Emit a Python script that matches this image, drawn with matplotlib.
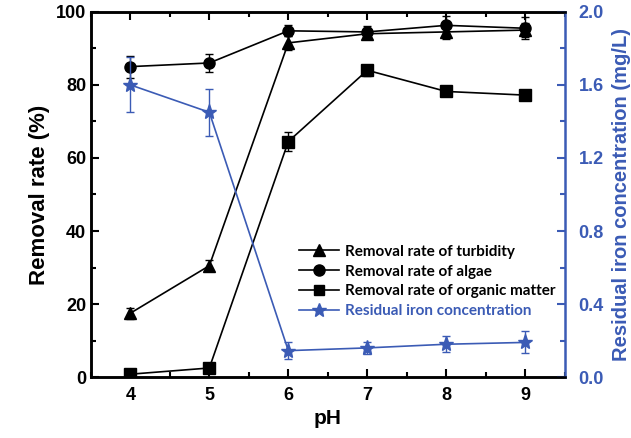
import numpy as np
import matplotlib.pyplot as plt
from matplotlib.ticker import MultipleLocator
from matplotlib.lines import Line2D

# data
ph = [4, 5, 6, 7, 8, 9]
turbidity = [17.5, 30.5, 91.5, 94.0, 94.5, 95.0]
turbidity_err = [1.5, 1.5, 2.0, 1.5, 2.0, 2.0]
algae = [85.0, 86.0, 94.8, 94.5, 96.3, 95.5]
algae_err = [3.0, 2.5, 1.5, 1.5, 2.5, 3.0]
organic = [0.8, 2.5, 64.5, 84.0, 78.2, 77.2]
organic_err = [0.3, 0.4, 2.5, 1.5, 1.2, 1.3]
iron = [1.60, 1.45, 0.145, 0.16, 0.18, 0.19]
iron_err = [0.15, 0.13, 0.045, 0.035, 0.045, 0.06]

blue = "#3b5bb5"
plt.rcParams["font.family"] = ["Liberation Sans", "DejaVu Sans"]
plt.rcParams["font.weight"] = "bold"

fig = plt.figure(figsize=(6.31, 4.38), dpi=100)
ax = fig.add_axes([0.144, 0.139, 0.751, 0.834])
ax2 = ax.twinx()

kw = dict(color="black", lw=1.2, ms=8, capsize=3, elinewidth=1, capthick=1)
ax.errorbar(ph, turbidity, yerr=turbidity_err, marker="^", **kw)
ax.errorbar(ph, algae, yerr=algae_err, marker="o", **kw)
ax.errorbar(ph, organic, yerr=organic_err, marker="s", **kw)
ax2.errorbar(ph, iron, yerr=iron_err, marker="*", color=blue, lw=1.2, ms=11,
             capsize=3, elinewidth=1, capthick=1)

ax.set_xlim(3.5, 9.5)
ax.set_ylim(0, 100)
ax2.set_ylim(0, 2.0)
ax.xaxis.set_major_locator(MultipleLocator(1))
ax.xaxis.set_minor_locator(MultipleLocator(0.5))
ax.yaxis.set_major_locator(MultipleLocator(20))
ax.yaxis.set_minor_locator(MultipleLocator(10))
ax2.yaxis.set_minor_locator(MultipleLocator(0.2))
ax2.set_yticks(np.arange(0, 2.01, 0.4))
ax2.set_yticklabels([f"{v:.1f}" for v in np.arange(0, 2.01, 0.4)])

ax.tick_params(axis="both", which="both", direction="in", top=True, width=1.5, labelsize=13)
ax.tick_params(which="major", length=6)
ax.tick_params(which="minor", length=3.5)
ax.tick_params(axis="x", pad=7)
ax2.tick_params(axis="y", which="both", direction="in", colors=blue, width=1.5,
                labelsize=13, pad=10)
ax2.tick_params(which="major", length=6)
ax2.tick_params(which="minor", length=3.5)

for s in ["left", "bottom", "top"]:
    ax.spines[s].set_linewidth(1.8)
    ax2.spines[s].set_linewidth(1.8)
ax2.spines["right"].set_linewidth(1.8)
ax2.spines["right"].set_color(blue)
ax.spines["right"].set_visible(False)

ax.set_xlabel("pH", fontsize=15, fontweight="bold")
ax.set_ylabel("Removal rate (%)", fontsize=16, fontweight="bold")
ax2.set_ylabel("Residual iron concentration (mg/L)", fontsize=14.5, fontweight="bold",
               color=blue, labelpad=6)

handles = [
    Line2D([], [], color="black", marker="^", ms=8, lw=1.2),
    Line2D([], [], color="black", marker="o", ms=8, lw=1.2),
    Line2D([], [], color="black", marker="s", ms=7, lw=1.2),
    Line2D([], [], color=blue, marker="*", ms=10, lw=1.2),
]
labels = ["Removal rate of turbidity", "Removal rate of algae",
          "Removal rate of organic matter", "Residual iron concentration"]
leg = ax.legend(handles, labels, loc="upper left", bbox_to_anchor=(0.41, 0.40),
                frameon=False, handlelength=2.6, handletextpad=0.4,
                labelspacing=0.38, prop={"family": ["Lato", "DejaVu Sans"],
                                         "weight": "bold", "size": 11})
leg.get_texts()[3].set_color(blue)

fig.savefig("out.png", dpi=100)
